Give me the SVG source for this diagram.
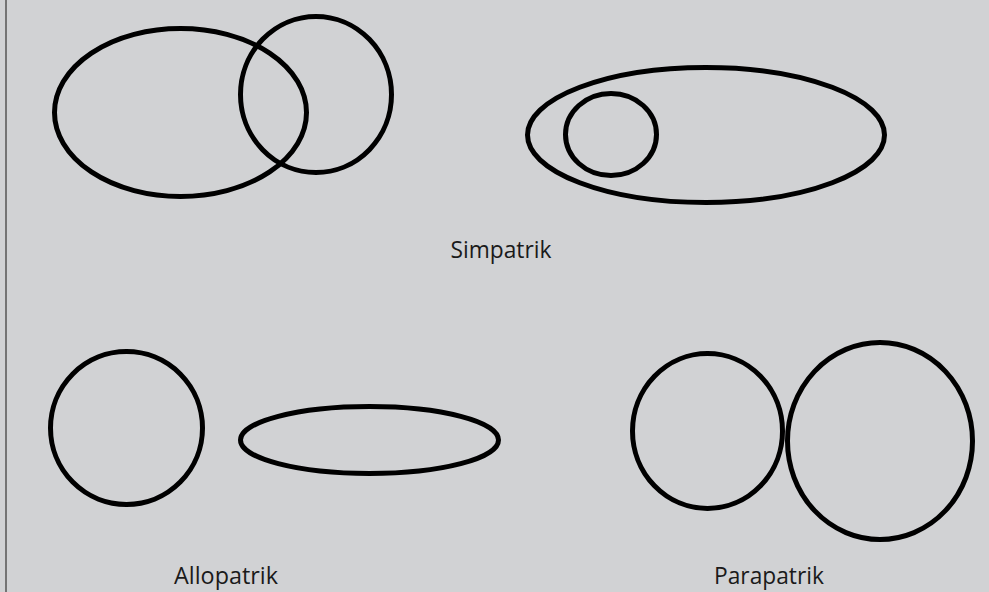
<svg xmlns="http://www.w3.org/2000/svg" width="989" height="592" viewBox="0 0 989 592">
<style>
.s{fill:none;stroke:#000;stroke-width:5}
.t{font-family:"Open Sans","Noto Sans",sans-serif;font-size:23.5px;fill:#1a1a1a;text-anchor:middle}
</style>
<rect x="0" y="0" width="989" height="592" fill="#d1d2d4"/>
<line x1="6" y1="0" x2="6" y2="592" stroke="#555" stroke-width="1.5"/>
<g id="simpatrik-a">
<ellipse class="s" cx="180.5" cy="112.5" rx="126" ry="84"/>
<ellipse class="s" cx="316" cy="94.5" rx="75.5" ry="78"/>
</g>
<g id="simpatrik-b">
<ellipse class="s" cx="706" cy="135" rx="178.5" ry="67.5"/>
<ellipse class="s" cx="611" cy="134.5" rx="45.5" ry="41"/>
</g>
<text class="t" x="501" y="258" textLength="101" lengthAdjust="spacingAndGlyphs">Simpatrik</text>
<g id="allopatrik">
<ellipse class="s" cx="126.5" cy="428" rx="76" ry="76.5"/>
<ellipse class="s" cx="369.5" cy="440" rx="129" ry="33.5"/>
</g>
<text class="t" x="226" y="584" textLength="104" lengthAdjust="spacingAndGlyphs">Allopatrik</text>
<g id="parapatrik">
<ellipse class="s" cx="707.5" cy="431" rx="75" ry="77.5"/>
<ellipse class="s" cx="880" cy="441" rx="92.5" ry="98.5"/>
</g>
<text class="t" x="769" y="584" textLength="110" lengthAdjust="spacingAndGlyphs">Parapatrik</text>
</svg>
